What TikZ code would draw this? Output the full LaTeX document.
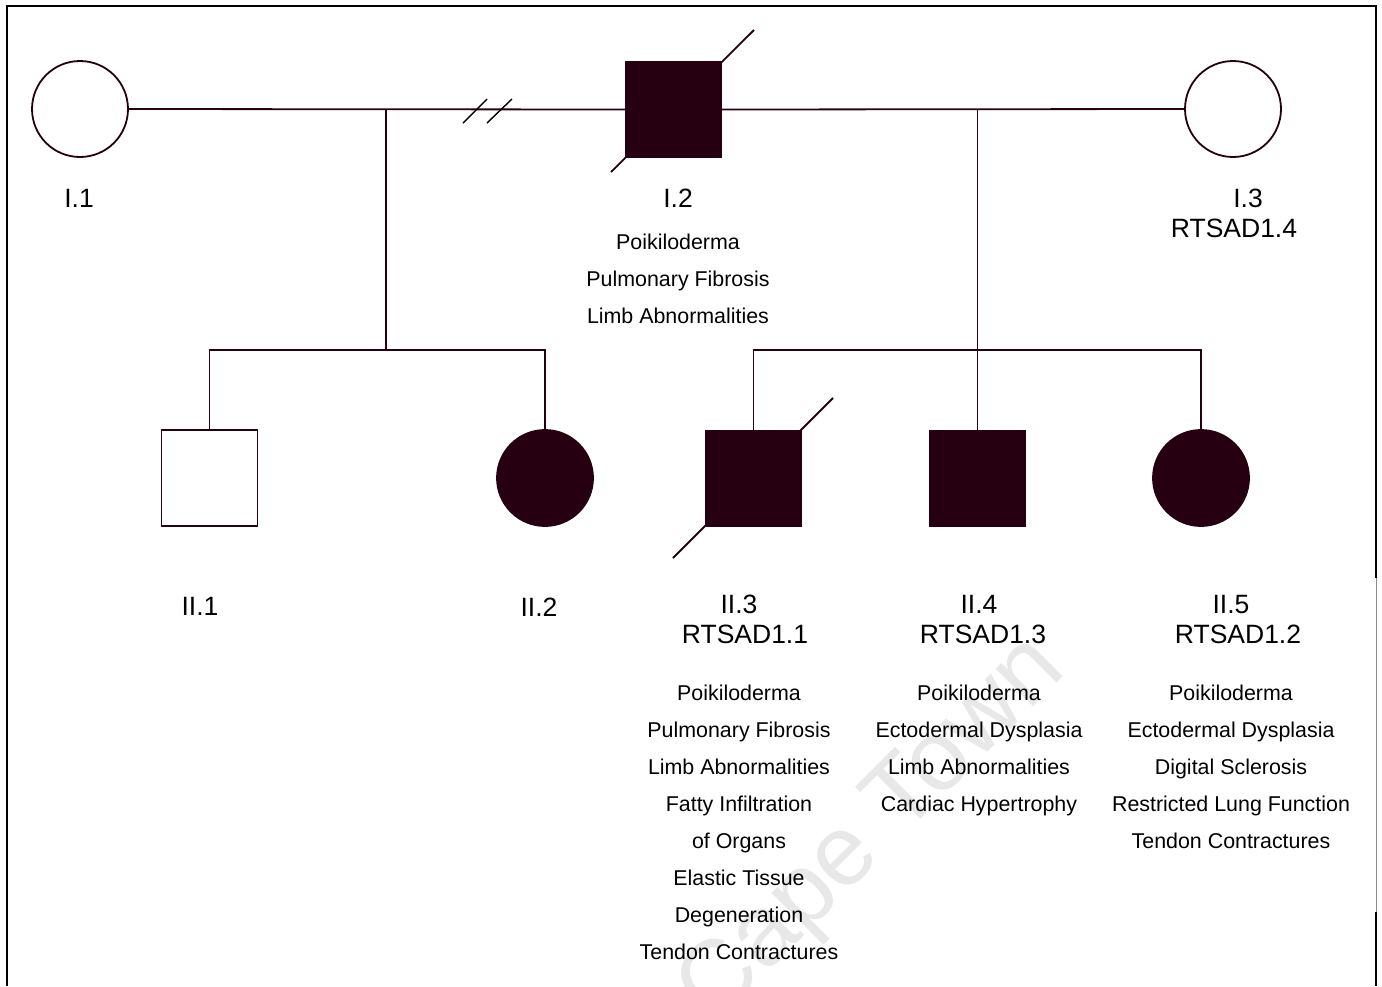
\documentclass[tikz,border=0pt]{standalone}
\usepackage{fontspec}
\setmainfont{Liberation Sans}
\definecolor{ped}{HTML}{260010}
\begin{document}
\begin{tikzpicture}[x=1pt,y=-1pt,
  sym/.style={draw=ped,line width=1.8pt,inner sep=0pt,outer sep=0pt},
  fem/.style={sym,circle,minimum size=96pt},
  mal/.style={sym,rectangle,minimum size=96pt},
  aff/.style={fill=ped},
  unaff/.style={fill=white},
  link/.style={draw=ped,line width=1.8pt},
  dline/.style={draw=ped,line width=1.8pt},
  big/.style={anchor=base,inner sep=0pt,font=\fontsize{26.5}{30}\selectfont},
  small/.style={anchor=base,inner sep=0pt,font=\fontsize{21.4}{25}\selectfont},
  frame/.style={draw=black,line width=2pt}]
\useasboundingbox (0,0) rectangle (1382,986);
\begin{scope}
\clip (0,0) rectangle (1382,986);
\node[rotate=45,anchor=base east,text=black!9,font=\fontsize{100}{110}\selectfont,inner sep=0pt] (wm) at (1068,672) {University of Cape Town};
\end{scope}
% frame
\draw[frame] (7,986) -- (7,6) -- (1376,6) -- (1376,578);
\draw[draw=black!45,line width=0.8pt] (1376,578) -- (1376,912);
\draw[frame] (1376,912) -- (1376,986);
% generation I
\node[fem,unaff] (i1) at (80,109) {};
\node[mal,aff] (i2) at (673.5,109.5) {};
\node[fem,unaff] (i3) at (1233,109) {};
% generation II
\node[mal,unaff] (ii1) at (209.5,478) {};
\node[fem,aff] (ii2) at (545,478) {};
\node[mal,aff] (ii3) at (753.5,478.5) {};
\node[mal,aff] (ii4) at (977.5,478.5) {};
\node[fem,aff] (ii5) at (1201,478) {};
% mating lines
\draw[link] (i1.east) -- (i2.west);
\draw[link] (i2.east) -- (i3.west);
\coordinate (s1a) at (463,123); \coordinate (s1b) at (487,99);
\coordinate (s2a) at (487,123); \coordinate (s2b) at (512,99);
\draw[draw=black,line width=1.4pt] (s1a) -- (s1b);
\draw[draw=black,line width=1.4pt] (s2a) -- (s2b);
% descent 1
\coordinate (m1) at (386,109);
\coordinate (sib1) at (386,350);
\draw[link] (m1) -- (sib1);
\draw[link] (ii1.north) |- (sib1) -| (ii2.north);
% descent 2
\coordinate (m2) at (977.5,109);
\coordinate (sib2) at (977.5,350);
\draw[link] (m2) -- (ii4.north);
\draw[link] (ii3.north) |- (sib2) -| (ii5.north);
% deceased slashes
\draw[dline] ([shift={(-62.5,62.5)}]i2.center) -- ([shift={(80.5,-79.5)}]i2.center);
\draw[dline] ([shift={(-80.5,79.5)}]ii3.center) -- ([shift={(79.5,-80.5)}]ii3.center);
% labels generation I
\node[big] (li1) at (79,207) {I.1};
\node[big] (li2) at (678,207) {I.2};
\node[big] (li3) at (1248,207) {I.3};
\node[big] (li3b) at (1234,237) {RTSAD1.4};
\foreach \t [count=\i] in {Poikiloderma,Pulmonary Fibrosis,Limb Abnormalities}
  \node[small] (ti2\i) at (678,212+37*\i) {\t};
% labels generation II
\node[big] (lii1) at (200,615) {II.1};
\node[big] (lii2) at (539,616) {II.2};
\node[big] (lii3) at (739,613) {II.3};
\node[big] (lii3b) at (745,643) {RTSAD1.1};
\node[big] (lii4) at (979,613) {II.4};
\node[big] (lii4b) at (983,643) {RTSAD1.3};
\node[big] (lii5) at (1231,613) {II.5};
\node[big] (lii5b) at (1238,643) {RTSAD1.2};
\foreach \t [count=\i] in {Poikiloderma,Pulmonary Fibrosis,Limb Abnormalities,Fatty Infiltration,of Organs,Elastic Tissue,Degeneration,Tendon Contractures}
  \node[small] (tii3\i) at (739,663+37*\i) {\t};
\foreach \t [count=\i] in {Poikiloderma,Ectodermal Dysplasia,Limb Abnormalities,Cardiac Hypertrophy}
  \node[small] (tii4\i) at (979,663+37*\i) {\t};
\foreach \t [count=\i] in {Poikiloderma,Ectodermal Dysplasia,Digital Sclerosis,Restricted Lung Function,Tendon Contractures}
  \node[small] (tii5\i) at (1231,663+37*\i) {\t};
\end{tikzpicture}
\end{document}
